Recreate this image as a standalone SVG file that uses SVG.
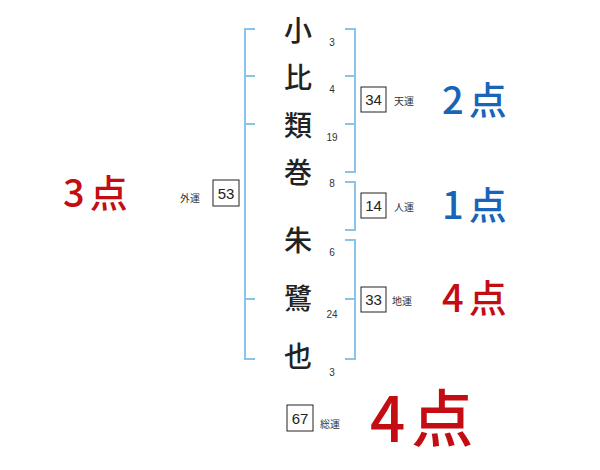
<svg xmlns="http://www.w3.org/2000/svg" width="600" height="470" viewBox="0 0 600 470">
<style>
.br{fill:none;stroke:#8cc3ea;stroke-width:2}
.box{fill:#fff;stroke:#222;stroke-width:1}
.ch{font-family:"Noto Sans CJK JP","Noto Sans",sans-serif;font-size:28px;font-weight:500;fill:#222;text-anchor:middle}
.num{font-family:"Liberation Sans","Noto Sans",sans-serif;font-size:10px;fill:#333;text-anchor:middle}
.bn{font-family:"Liberation Sans","Noto Sans",sans-serif;font-size:15px;fill:#222;text-anchor:middle}
.lb{font-family:"Noto Sans CJK JP",sans-serif;font-size:10px;fill:#333}
.sc{font-family:"Noto Sans CJK JP",sans-serif;font-size:38px;font-weight:500;letter-spacing:5px}
.blue{fill:#1764b8}
.red{fill:#c40d12}
</style>
<rect width="600" height="470" fill="#fff"/>
<g id="connectors">
<path class="br" d="M255 29H245V359H255M245 76H255M245 124H255M245 299H255"/>
<path class="br" d="M345 29H355V172H345M345 76H355M345 124H355"/>
<path class="br" d="M345 182H355V230H345"/>
<path class="br" d="M345 240H355V359H345M345 299H355"/>
</g>
<g id="chars">
<text class="ch" x="298" y="41">小</text>
<text class="ch" x="298" y="88">比</text>
<text class="ch" x="298" y="136">類</text>
<text class="ch" x="298" y="183">巻</text>
<text class="ch" x="298" y="251">朱</text>
<text class="ch" x="298" y="309">鷺</text>
<text class="ch" x="298" y="367">也</text>
</g>
<g id="strokes">
<text class="num" x="332" y="46">3</text>
<text class="num" x="332" y="93">4</text>
<text class="num" x="332" y="141">19</text>
<text class="num" x="332" y="187">8</text>
<text class="num" x="332" y="256">6</text>
<text class="num" x="332" y="318">24</text>
<text class="num" x="332" y="376">3</text>
</g>
<g id="tenun">
<rect class="box" x="361" y="87" width="25" height="25"/>
<text class="bn" x="373.5" y="105">34</text>
<text class="lb" x="394" y="105">天運</text>
</g>
<g id="jinun">
<rect class="box" x="361" y="193" width="25" height="25"/>
<text class="bn" x="373.5" y="211">14</text>
<text class="lb" x="394" y="211">人運</text>
</g>
<g id="chiun">
<rect class="box" x="361" y="287" width="25" height="25"/>
<text class="bn" x="373.5" y="305">33</text>
<text class="lb" x="392" y="305">地運</text>
</g>
<g id="gaiun">
<rect class="box" x="213" y="180" width="26" height="26"/>
<text class="bn" x="226" y="198.5">53</text>
<text class="lb" x="180" y="202">外運</text>
</g>
<g id="souun">
<rect class="box" x="287" y="405" width="26" height="26"/>
<text class="bn" x="300" y="423.5">67</text>
<text class="lb" x="320" y="428">総運</text>
</g>
<g id="scores">
<text class="sc blue" x="442" y="114">2点</text>
<text class="sc blue" x="442" y="219">1点</text>
<text class="sc red" x="442" y="312">4点</text>
<text class="sc red" x="63" y="207">3点</text>
<text class="sc red" x="370" y="442" style="font-size:62px;letter-spacing:6px">4点</text>
</g>
</svg>
